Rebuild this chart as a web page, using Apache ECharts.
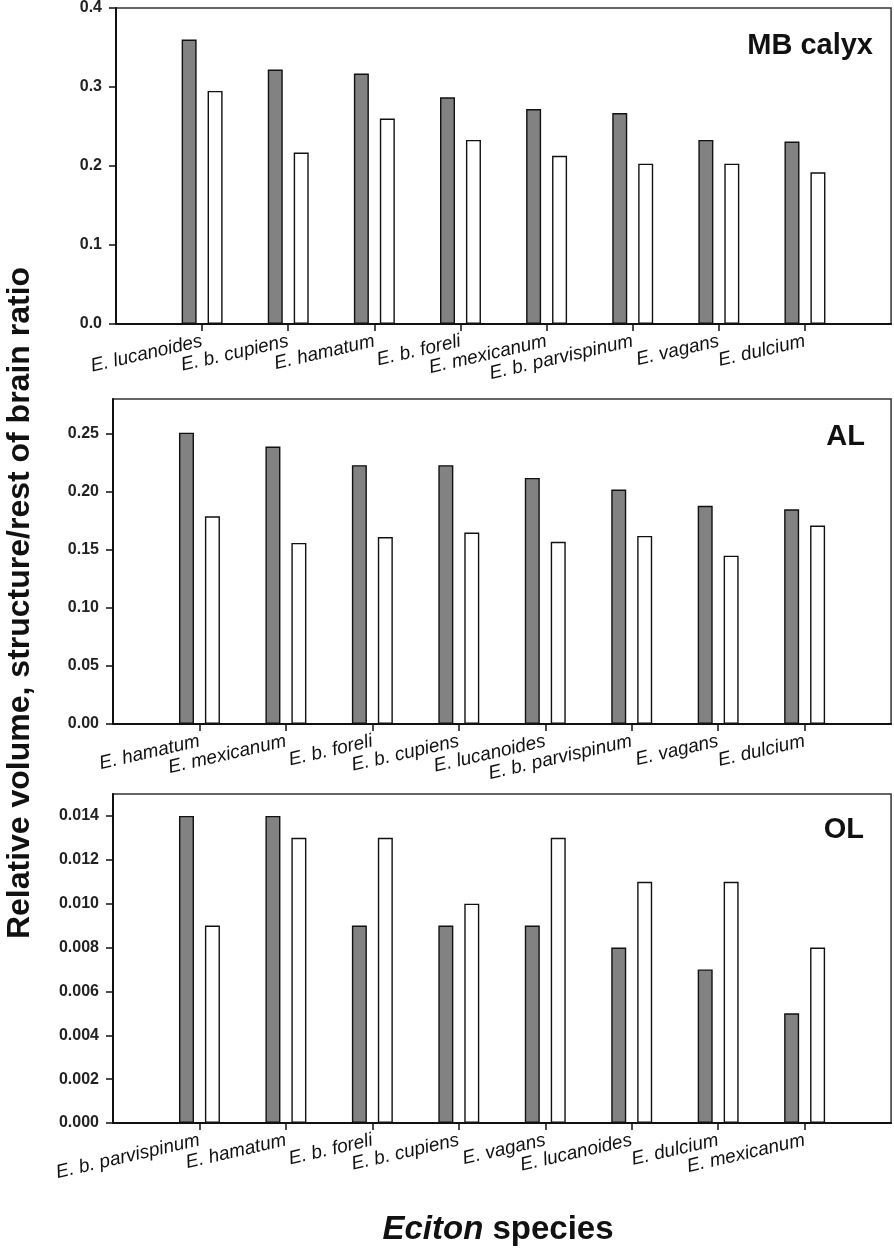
<!DOCTYPE html>
<html><head><meta charset="utf-8">
<script src="https://cdn.jsdelivr.net/npm/echarts@6/dist/echarts.min.js"></script>
<style>html,body{margin:0;padding:0;background:#fff}#c{width:894px;height:1250px}</style>
</head><body><div id="c"></div>
<script>
// Panel 1: MB calyx
const mbCategories = ['E. lucanoides','E. b. cupiens','E. hamatum','E. b. foreli','E. mexicanum','E. b. parvispinum','E. vagans','E. dulcium'];
const mbDark  = [0.360, 0.322, 0.317, 0.287, 0.272, 0.267, 0.233, 0.231];
const mbWhite = [0.295, 0.217, 0.260, 0.233, 0.213, 0.203, 0.203, 0.192];
const mbTicks = [0, 0.1, 0.2, 0.3, 0.4];
// Panel 2: AL
const alCategories = ['E. hamatum','E. mexicanum','E. b. foreli','E. b. cupiens','E. lucanoides','E. b. parvispinum','E. vagans','E. dulcium'];
const alDark  = [0.251, 0.239, 0.223, 0.223, 0.212, 0.202, 0.188, 0.185];
const alWhite = [0.179, 0.156, 0.161, 0.165, 0.157, 0.162, 0.145, 0.171];
const alTicks = [0, 0.05, 0.10, 0.15, 0.20, 0.25];
// Panel 3: OL
const olCategories = ['E. b. parvispinum','E. hamatum','E. b. foreli','E. b. cupiens','E. vagans','E. lucanoides','E. dulcium','E. mexicanum'];
const olDark  = [0.014, 0.014, 0.009, 0.009, 0.009, 0.008, 0.007, 0.005];
const olWhite = [0.009, 0.013, 0.013, 0.010, 0.013, 0.011, 0.011, 0.008];
const olTicks = [0, 0.002, 0.004, 0.006, 0.008, 0.010, 0.012, 0.014];

const yTitle = 'Relative volume, structure/rest of brain ratio';
const panelTitles = ['MB calyx', 'AL', 'OL'];

const FONT = "'Liberation Sans', Arial, Helvetica, sans-serif";
const pad = arr => [null].concat(arr, [null]);
const padC = arr => [''].concat(arr, ['']);

const panels = [
  {cats: mbCategories, dark: mbDark, white: mbWhite, ticks: mbTicks, max: 0.4, interval: 0.1, dec: 1,
   grid: {left: 116, top: 8, right: 2, height: 316}},
  {cats: alCategories, dark: alDark, white: alWhite, ticks: alTicks, max: 0.28, interval: 0.05, dec: 2,
   grid: {left: 113, top: 399, right: 2, height: 325}},
  {cats: olCategories, dark: olDark, white: olWhite, ticks: olTicks, max: 0.015, interval: 0.002, dec: 3,
   grid: {left: 113, top: 794, right: 2, height: 329}}
];

const grids = [], xAxes = [], yAxes = [], series = [];
panels.forEach((p, i) => {
  grids.push(Object.assign({show: true, borderColor: '#333', borderWidth: 1.5, backgroundColor: '#fff'}, p.grid));
  xAxes.push({
    type: 'category', gridIndex: i, boundaryGap: false, data: padC(p.cats),
    axisLine: {lineStyle: {color: '#111', width: 2}},
    axisTick: {length: 7, lineStyle: {color: '#111', width: 1.5}, interval: (idx) => idx > 0 && idx <= p.cats.length},
    axisLabel: {interval: 0, rotate: 13, margin: 17, fontSize: 19, fontStyle: 'italic', color: '#111', fontFamily: FONT},
    splitLine: {show: false}
  });
  yAxes.push({
    type: 'value', gridIndex: i, min: 0, max: p.max, interval: p.interval,
    axisLine: {show: true, lineStyle: {color: '#111', width: 2}},
    axisTick: {show: true, length: 7, lineStyle: {color: '#111', width: 1.5}, customValues: p.ticks},
    axisLabel: {margin: 14, fontSize: 16, fontWeight: 'bold', color: '#222', fontFamily: FONT,
      customValues: p.ticks, formatter: v => Number(v).toFixed(p.dec)},
    splitLine: {show: false}
  });
  series.push({
    type: 'bar', xAxisIndex: i, yAxisIndex: i, data: pad(p.dark), barWidth: 15, barGap: '73%',
    itemStyle: {color: '#828282', borderColor: '#111', borderWidth: 1.4}, animation: false
  });
  series.push({
    type: 'bar', xAxisIndex: i, yAxisIndex: i, data: pad(p.white), barWidth: 15, barGap: '73%',
    itemStyle: {color: '#ffffff', borderColor: '#111', borderWidth: 1.4}, animation: false
  });
});

const titleY = [46, 437, 830];
const titleX = [873, 865, 864];
const graphics = panelTitles.map((t, i) => ({
  type: 'text', x: titleX[i], y: titleY[i], z: 100,
  style: {text: t, font: "bold 29px " + FONT, fill: '#111', textAlign: 'right', textVerticalAlign: 'middle'}
}));
graphics.push({
  type: 'text', x: 20, y: 603, rotation: Math.PI / 2, z: 100,
  style: {text: yTitle, font: "bold 32px " + FONT, fill: '#111', textAlign: 'center', textVerticalAlign: 'middle'}
});
graphics.push({
  type: 'text', x: 498, y: 1230, z: 100,
  style: {text: '{i|Eciton} species', font: "bold 33px " + FONT, fill: '#111', textAlign: 'center', textVerticalAlign: 'middle',
    rich: {i: {fontStyle: 'italic', fontWeight: 'bold', fontSize: 33, fontFamily: FONT, fill: '#111'}}}
});

const chart = echarts.init(document.getElementById('c'), null, {renderer: 'canvas'});
chart.setOption({
  animation: false,
  grid: grids, xAxis: xAxes, yAxis: yAxes, series: series, graphic: graphics
});
</script></body></html>
